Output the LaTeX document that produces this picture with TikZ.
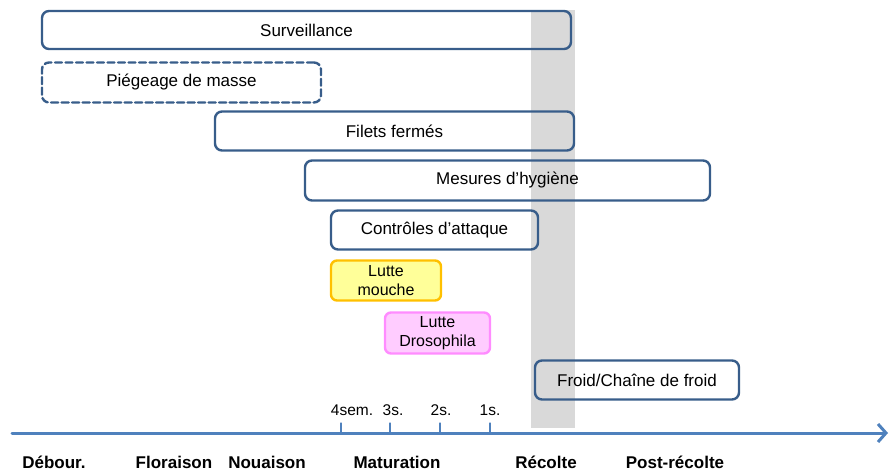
\documentclass[tikz,border=0pt]{standalone}
\usepackage{fontspec}
\setmainfont{Liberation Sans}
\usetikzlibrary{arrows.meta}
\definecolor{bordbleu}{HTML}{385D8A}
\definecolor{axebleu}{HTML}{4F81BD}
\definecolor{jauneF}{HTML}{FFFF99}
\definecolor{jauneB}{HTML}{FFC000}
\definecolor{roseF}{HTML}{FFCCFF}
\definecolor{roseB}{HTML}{FF8CFF}
\tikzset{
  mesure/.style={draw=bordbleu, line width=2.4pt, rounded corners=7pt, inner sep=0pt,
    font=\fontsize{17}{19}\selectfont},
  lutte/.style={line width=2.4pt, rounded corners=6pt, inner sep=0pt, align=center,
    font=\fontsize{16}{19}\selectfont},
  phase/.style={font=\fontsize{17}{19}\selectfont\bfseries, anchor=base},
  sem/.style={font=\fontsize{15.5}{17}\selectfont, anchor=base}
}
\begin{document}
\begin{tikzpicture}[x=1pt, y=-1pt, cap=round]
\useasboundingbox (0,0) rectangle (892,473);
% Bande grise de la récolte
\fill[black!15] (531,10) rectangle (575,428);
% Mesures (boîtes)
\node[mesure, minimum width=529, minimum height=38] (surv) at (306.5,30) {Surveillance};
\node[mesure, dash pattern=on 7pt off 3.5pt, minimum width=279, minimum height=40] (piege) at (181.5,82.5) {Piégeage de masse};
\node[mesure, minimum width=359, minimum height=39] (filets) at (394.5,131) {Filets fermés};
\node[mesure, minimum width=405, minimum height=40] (hyg) at (507.5,180.5) {Mesures d’hygiène};
\node[mesure, minimum width=207, minimum height=39] (ctrl) at (434.5,230) {Contrôles d’attaque};
\node[lutte, draw=jauneB, fill=jauneF, minimum width=110, minimum height=40] (mouche) at (386,280.5) {Lutte\\mouche};
\node[lutte, draw=roseB, fill=roseF, minimum width=105, minimum height=41] (droso) at (437.5,333) {Lutte\\Drosophila};
\node[mesure, minimum width=204, minimum height=39] (froid) at (637,380) {Froid/Chaîne de froid};
% Axe du temps
\coordinate (debut) at (12,433);
\coordinate (fin) at (888,433);
\draw[axebleu, line width=3pt, -{Straight Barb[length=8pt, width=18pt, line width=3pt]}] (debut) -- (fin);
% Semaines avant récolte
\foreach \x in {341, 390, 440, 490} {
\draw[axebleu, line width=1.2pt] (\x,423) -- (\x,433);
}
\node[sem] (s4) at (352,415) {4sem.};
\node[sem] (s3) at (393,415) {3s.};
\node[sem] (s2) at (441,415) {2s.};
\node[sem] (s1) at (490,415) {1s.};
% Stades
\foreach \x/\t [count=\i] in {54/Débour., 174/Floraison, 267/Nouaison, 397/Maturation, 546/Récolte, 675/Post-récolte} {
\node[phase] (st\i) at (\x,468) {\t};
}
\end{tikzpicture}
\end{document}
